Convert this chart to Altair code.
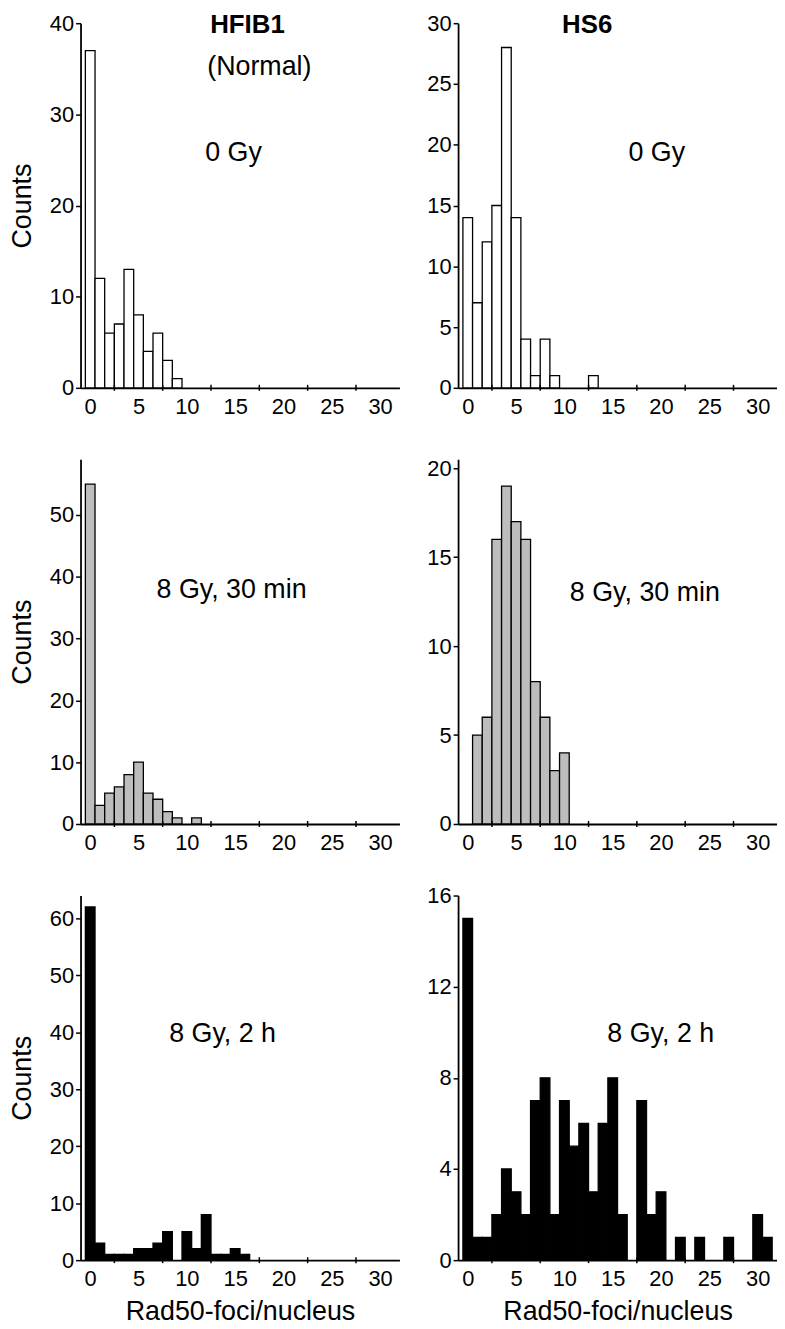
import altair as alt
import pandas as pd

# ---- data (counts per number of Rad50 foci per nucleus, starting at 0 foci) ----
hfib1_0gy = [37, 12, 6, 7, 13, 8, 4, 6, 3, 1]
hs6_0gy = [14, 7, 12, 15, 28, 14, 4, 1, 4, 1, 0, 0, 0, 1]
hfib1_30min = [55, 3, 5, 6, 8, 10, 5, 4, 2, 1, 0, 1]
hs6_30min = [0, 5, 6, 16, 19, 17, 16, 8, 6, 3, 4]
hfib1_2h = [62, 3, 1, 1, 1, 2, 2, 3, 5, 0, 5, 2, 8, 1, 1, 2, 1]
hs6_2h = [15, 1, 1, 2, 4, 3, 2, 7, 8, 2, 7, 5, 6, 3, 6, 8, 2, 0, 7, 2, 3, 0, 1, 0, 1, 0, 0, 1, 0, 0, 2, 1]

x_labels = [0, 5, 10, 15, 20, 25, 30]
x_minor = [2.5, 7.5, 12.5, 17.5, 22.5, 27.5]

y_ticks_hfib1_0gy = [0, 10, 20, 30, 40]
y_ticks_hs6_0gy = [0, 5, 10, 15, 20, 25, 30]
y_ticks_hfib1_30min = [0, 10, 20, 30, 40, 50]
y_ticks_hs6_30min = [0, 5, 10, 15, 20]
y_ticks_hfib1_2h = [0, 10, 20, 30, 40, 50, 60]
y_ticks_hs6_2h = [0, 4, 8, 12, 16]

cell_lines = ["HFIB1", "HS6"]
subtitle_normal = "(Normal)"
conditions = ["0 Gy", "8 Gy, 30 min", "8 Gy, 2 h"]
y_title = "Counts"
x_title = "Rad50-foci/nucleus"

W, H = 321, 367
FONT = "Liberation Sans"


def text_layer(txt, px, py, bold=False, size=27):
    return alt.Chart(pd.DataFrame({"label": [txt]})).mark_text(
        font=FONT, fontSize=(26 if bold else size), fontWeight="bold" if bold else "normal",
        color="black", align="center", baseline="middle"
    ).encode(text="label:N", x=alt.value(px), y=alt.value(py))


def panel(counts, ymax, yticks, fill, left, bottom, notes):
    df = pd.DataFrame({"foci": list(range(len(counts))), "n": counts})
    xaxis = alt.Axis(values=x_labels, ticks=False, labelPadding=9,
                     title=x_title if bottom else None, titlePadding=9,
                     titleFontSize=27, titleFontWeight="normal")
    yaxis = alt.Axis(values=yticks, title=y_title if left else None,
                     titlePadding=13, titleFontSize=27, titleFontWeight="normal",
                     tickSize=5, labelPadding=2)
    xscale = alt.Scale(domain=[-1, 32], nice=False, zero=False)
    bars = alt.Chart(df).transform_filter("datum.n > 0").transform_calculate(
        lo="datum.foci - 0.5", hi="datum.foci + 0.5"
    ).mark_bar(fill=fill, stroke="black", strokeWidth=1.3).encode(
        x=alt.X("lo:Q", scale=xscale, axis=xaxis),
        x2="hi:Q",
        y=alt.Y("n:Q", scale=alt.Scale(domain=[0, ymax], nice=False), axis=yaxis),
        y2=alt.datum(0),
    )
    ticks = alt.Chart(pd.DataFrame({"t": x_minor})).mark_rule(
        color="black", strokeWidth=1.5
    ).encode(x=alt.X("t:Q", scale=xscale, axis=xaxis), y=alt.value(H - 3), y2=alt.value(H + 3))
    layers = [bars, ticks] + [text_layer(*n) for n in notes]
    return alt.layer(*layers).properties(width=W, height=H)


p11 = panel(hfib1_0gy, 40, y_ticks_hfib1_0gy, "white", True, False,
            [(cell_lines[0], 168, 2, True), (subtitle_normal, 180, 44), (conditions[0], 154, 131)])
p12 = panel(hs6_0gy, 30, y_ticks_hs6_0gy, "white", False, False,
            [(cell_lines[1], 130, 2, True), (conditions[0], 200, 131)])
p21 = panel(hfib1_30min, 59, y_ticks_hfib1_30min, "#bdbdbd", True, False,
            [(conditions[1], 152, 132)])
p22 = panel(hs6_30min, 20.5, y_ticks_hs6_30min, "#bdbdbd", False, False,
            [(conditions[1], 188, 135)])
p31 = panel(hfib1_2h, 64, y_ticks_hfib1_2h, "black", True, True,
            [(conditions[2], 143, 139)])
p32 = panel(hs6_2h, 16, y_ticks_hs6_2h, "black", False, True,
            [(conditions[2], 204, 139)])

chart = alt.concat(
    p11, p12, p21, p22, p31, p32, columns=2,
    spacing=alt.RowColnumber(row=72, column=59), bounds="flush"
).properties(
    padding=0, background="white"
).configure_view(stroke=None).configure_axis(
    grid=False, domainColor="black", domainWidth=1.8, tickColor="black", tickWidth=1.5,
    labelColor="black", labelFont=FONT, labelFontSize=22, titleFont=FONT, titleColor="black"
)

chart.save("out.html", embed_options={"renderer": "svg", "actions": False})
